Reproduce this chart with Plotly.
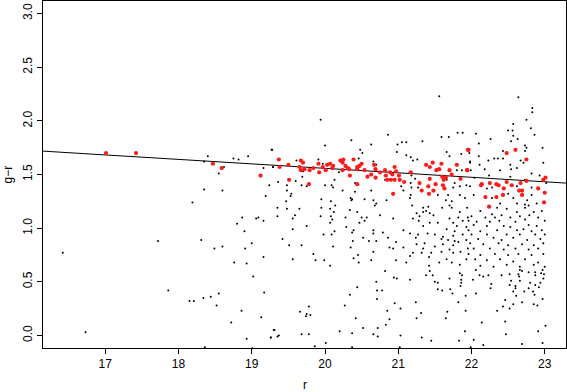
import plotly.graph_objects as go

# field stars (small black dots)
black_r = [
    19.94, 20.00, 20.36, 19.27, 20.48, 20.51, 19.91, 19.61, 20.46, 19.29, 19.97, 20.13, 19.60, 19.36, 20.19, 19.70, 19.69, 20.41,
    21.56, 20.86, 20.63, 20.99, 21.05, 21.11, 21.33, 21.59, 21.69, 21.81, 21.88, 20.98, 21.11, 21.17, 21.20, 21.26, 21.66, 21.86,
    21.70, 20.66, 20.70, 21.80, 21.87, 21.95, 21.18, 21.23, 20.88, 20.82, 21.66, 21.17, 21.77, 21.98,
    22.64, 22.83, 22.83, 22.75, 22.57, 22.50, 22.56, 22.81, 22.06, 22.57, 22.86, 22.26, 22.63, 22.54, 22.10, 22.73, 22.75, 22.43,
    22.73, 22.97, 21.97, 22.10, 22.31, 22.36, 22.43, 22.23, 22.67, 22.71, 21.98, 22.11, 22.53, 22.98, 21.99, 22.18, 22.39, 22.54,
    22.62, 22.82, 22.93, 22.24, 22.53, 22.73, 22.04, 23.02,
    19.48, 19.68, 19.75, 20.00, 20.09, 20.11, 20.24, 20.41, 19.48, 19.54, 19.53, 20.35, 20.37, 20.54, 19.95, 19.47, 20.08, 20.36,
    20.14, 19.35, 19.48, 19.65, 19.95, 20.07, 20.34, 20.44, 20.12, 19.94, 20.08, 19.35, 19.59, 19.56, 20.28, 20.50, 20.57, 20.10,
    20.54, 20.07, 20.47, 19.75, 20.29, 19.56, 20.39, 20.13, 20.37, 19.98, 20.09, 20.52, 19.42, 20.38, 19.51, 19.68, 20.11, 20.35,
    20.60, 19.84, 20.45, 20.39, 19.56, 19.87, 19.99, 20.46, 20.07,
    20.63, 21.04, 21.18, 21.07, 21.27, 21.75, 21.84, 21.93, 21.17, 21.16, 20.66, 20.84, 21.54, 21.68, 21.84, 21.65, 21.73, 21.91,
    20.70, 20.68, 21.70, 21.19, 21.34, 21.41, 21.38, 21.60, 21.73, 21.34, 21.25, 21.43, 21.84, 20.75, 21.29, 21.48, 21.82, 21.95,
    20.93, 21.20, 21.70, 21.28, 21.43, 21.88, 21.54, 21.75, 21.34, 21.80, 21.93, 21.07, 21.66, 21.77, 20.66, 20.79, 20.66, 21.16,
    21.27, 21.40, 21.50, 21.61, 21.75, 21.88, 20.86, 21.24, 21.59, 21.68, 21.77, 21.82, 21.93, 20.70, 20.97, 21.25, 21.36, 21.61,
    21.75, 20.88, 20.93, 21.07, 21.34, 21.50, 21.70, 21.85, 21.95, 20.66, 21.20, 21.32, 21.45, 21.59, 21.75, 21.16, 21.42, 21.66,
    20.63, 20.97, 21.11, 21.56, 21.73, 21.84, 21.42, 21.93,
    21.98, 22.21, 22.28, 22.62, 22.82, 22.03, 22.50, 22.28, 22.57, 22.82, 22.76, 22.62, 22.39, 22.73, 22.78, 22.89, 21.94, 22.35,
    22.48, 22.73, 22.12, 22.62, 22.85, 22.96, 22.28, 22.41, 22.79, 22.00, 22.19, 22.32, 22.53, 22.66, 22.91, 21.96, 22.07, 22.25,
    22.38, 22.60, 22.73, 23.00, 22.03, 22.21, 22.44, 22.53, 22.78, 22.89, 21.96, 22.12, 22.35, 22.62, 22.71, 22.82, 22.96, 22.00,
    22.21, 22.48, 22.66, 22.87, 23.00, 22.09, 22.30, 22.41, 22.57, 22.76, 22.94, 21.98, 22.16, 22.37, 22.50, 22.69, 22.85, 22.98,
    22.03, 22.25, 22.44, 22.60, 22.78, 22.91, 21.96, 22.12, 22.32, 22.50, 22.64, 22.82, 22.98, 22.05, 22.21, 22.39, 22.57, 22.73,
    22.91, 22.12, 22.30, 22.48, 22.66, 22.85, 23.00,
    20.44, 20.34, 20.27, 19.78, 19.66, 19.75, 19.80, 19.74, 20.42, 20.52, 19.31, 20.20, 20.37, 19.37, 19.35, 19.26, 19.68, 19.78,
    20.01, 19.86, 20.37,
    20.82, 20.98, 20.94, 21.16, 20.70, 21.43, 21.38, 21.47, 21.70, 21.84, 21.87, 21.86, 21.86, 21.50, 21.54, 21.85, 20.71, 20.78,
    21.54, 21.60, 21.71, 21.74, 21.92, 20.71, 21.24, 20.95, 21.82, 21.03, 20.85, 21.67, 21.92, 21.31, 21.25, 21.65, 20.88, 20.83,
    20.72, 21.91, 20.66, 20.72, 21.03, 21.32, 21.45, 21.83, 21.02,
    22.06, 22.66, 22.69, 22.97, 22.95, 22.99, 22.11, 22.16, 22.23, 22.41, 22.52, 22.64, 22.65, 22.78, 22.87, 22.87, 22.98, 22.02,
    22.54, 22.66, 22.80, 22.94, 22.27, 22.52, 22.60, 22.87, 22.26, 22.60, 22.78, 22.92, 22.57, 22.72, 22.84, 22.06, 22.61, 22.86,
    22.97, 22.46, 22.69, 22.57, 22.85, 22.90, 22.43, 22.52, 22.35, 22.14, 22.46, 23.01, 22.91, 22.47, 22.03, 22.69, 22.97, 22.16,
    21.99,
    16.42, 16.73, 17.72,
    18.40, 18.35, 18.62, 18.55, 18.75, 18.82, 18.95, 19.16, 19.28, 19.29, 19.24, 19.19, 18.35, 18.60, 18.19, 18.87, 18.80, 19.09,
    19.06, 19.16, 18.90, 18.31, 18.49, 18.60, 19.00, 18.91, 19.16, 18.76, 18.93, 19.02, 17.86, 18.55, 19.17, 18.15, 18.21, 18.34,
    18.44, 18.52, 18.86, 19.13, 18.72, 19.30, 18.93, 19.26, 18.36, 19.01,
]
black_gr = [
    2.01, 1.77, 1.82, 1.73, 1.73, 1.70, 1.64, 1.63, 1.65, 1.57, 1.60, 1.45, 1.44, 1.43, 1.52, 1.53, 1.48, 1.42,
    2.23, 1.87, 1.78, 1.78, 1.80, 1.80, 1.81, 1.85, 1.85, 1.89, 1.89, 1.71, 1.68, 1.66, 1.63, 1.64, 1.71, 1.69,
    1.67, 1.62, 1.59, 1.54, 1.54, 1.53, 1.49, 1.46, 1.45, 1.45, 1.45, 1.42, 1.42, 1.61,
    2.22, 2.12, 2.08, 2.01, 1.97, 1.91, 1.91, 1.93, 1.88, 1.86, 1.87, 1.83, 1.83, 1.81, 1.79, 1.77, 1.75, 1.72,
    1.72, 1.75, 1.70, 1.67, 1.65, 1.65, 1.65, 1.63, 1.63, 1.61, 1.62, 1.59, 1.59, 1.61, 1.54, 1.55, 1.54, 1.55,
    1.56, 1.51, 1.49, 1.49, 1.48, 1.45, 1.47, 1.42,
    1.40, 1.40, 1.39, 1.40, 1.40, 1.38, 1.35, 1.34, 1.35, 1.32, 1.30, 1.28, 1.27, 1.27, 1.27, 1.25, 1.25, 1.26,
    1.21, 1.19, 1.18, 1.18, 1.19, 1.18, 1.17, 1.15, 1.15, 1.11, 1.11, 1.11, 1.12, 1.09, 1.10, 1.10, 1.10, 1.08,
    1.07, 1.05, 1.05, 1.02, 1.01, 0.99, 0.98, 0.97, 0.96, 0.94, 0.94, 0.91, 0.90, 0.88, 0.84, 0.84, 0.83, 0.82,
    0.88, 0.76, 0.75, 0.72, 0.71, 0.70, 0.70, 0.68, 0.65,
    1.35, 1.39, 1.38, 1.35, 1.38, 1.38, 1.39, 1.40, 1.31, 1.28, 1.26, 1.26, 1.31, 1.31, 1.31, 1.26, 1.25, 1.28,
    1.23, 1.21, 1.21, 1.21, 1.19, 1.20, 1.16, 1.19, 1.19, 1.15, 1.14, 1.14, 1.15, 1.12, 1.11, 1.12, 1.10, 1.10,
    1.09, 1.09, 1.09, 1.07, 1.05, 1.07, 1.05, 1.05, 1.02, 1.02, 1.01, 0.98, 0.99, 0.97, 0.98, 0.96, 0.95, 0.95,
    0.94, 0.95, 0.94, 0.92, 0.93, 0.94, 0.91, 0.91, 0.90, 0.89, 0.88, 0.87, 0.89, 0.88, 0.87, 0.85, 0.86, 0.85,
    0.84, 0.82, 0.81, 0.82, 0.81, 0.83, 0.80, 0.78, 0.81, 0.78, 0.77, 0.77, 0.77, 0.78, 0.77, 0.74, 0.73, 0.71,
    0.70, 0.70, 0.68, 0.68, 0.68, 0.66, 0.65, 0.71,
    1.39, 1.37, 1.38, 1.39, 1.38, 1.31, 1.32, 1.28, 1.28, 1.31, 1.26, 1.23, 1.23, 1.22, 1.21, 1.23, 1.19, 1.19,
    1.18, 1.19, 1.16, 1.15, 1.15, 1.16, 1.13, 1.12, 1.12, 1.11, 1.10, 1.10, 1.10, 1.11, 1.10, 1.07, 1.06, 1.06,
    1.07, 1.06, 1.08, 1.07, 1.03, 1.02, 1.02, 1.01, 1.03, 1.02, 0.98, 0.97, 0.98, 0.98, 0.99, 0.97, 0.98, 0.94,
    0.94, 0.94, 0.94, 0.94, 0.94, 0.90, 0.91, 0.89, 0.91, 0.89, 0.90, 0.86, 0.85, 0.86, 0.84, 0.85, 0.84, 0.86,
    0.81, 0.81, 0.80, 0.81, 0.80, 0.81, 0.76, 0.75, 0.76, 0.75, 0.76, 0.75, 0.76, 0.71, 0.70, 0.71, 0.69, 0.71,
    0.68, 0.65, 0.64, 0.66, 0.64, 0.66, 0.64,
    0.45, 0.38, 0.28, 0.27, 0.22, 0.20, 0.19, 0.18, 0.16, 0.07, 0.05, 0.04, 0.02, 0.00, -0.01, -0.02, 0.01, 0.01,
    -0.07, -0.10, -0.11,
    0.60, 0.53, 0.54, 0.52, 0.50, 0.60, 0.56, 0.56, 0.53, 0.58, 0.56, 0.52, 0.49, 0.50, 0.49, 0.46, 0.42, 0.42,
    0.43, 0.42, 0.43, 0.39, 0.37, 0.34, 0.31, 0.30, 0.31, 0.25, 0.23, 0.22, 0.23, 0.21, 0.16, 0.16, 0.15, 0.10,
    0.07, 0.04, 0.01, -0.01, 0.00, -0.02, -0.05, -0.05, -0.11,
    0.61, 0.61, 0.60, 0.61, 0.58, 0.57, 0.56, 0.55, 0.56, 0.56, 0.57, 0.57, 0.55, 0.59, 0.59, 0.56, 0.53, 0.52,
    0.51, 0.51, 0.49, 0.49, 0.48, 0.47, 0.46, 0.47, 0.44, 0.44, 0.44, 0.45, 0.41, 0.41, 0.41, 0.39, 0.37, 0.38,
    0.34, 0.33, 0.31, 0.29, 0.29, 0.28, 0.27, 0.25, 0.23, 0.12, 0.13, 0.09, 0.04, 0.01, -0.04, -0.08, -0.07, -0.09,
    -0.11,
    0.77, 0.03, 0.88,
    1.67, 1.62, 1.57, 1.51, 1.65, 1.64, 1.67, 1.56, 1.73, 1.57, 1.40, 1.30, 1.36, 1.35, 1.24, 1.10, 1.04, 1.10,
    1.09, 1.07, 0.97, 0.89, 0.81, 0.83, 0.86, 0.81, 0.73, 0.68, 0.67, 0.55, 0.42, 0.39, 0.40, 0.32, 0.32, 0.35,
    0.36, 0.28, 0.23, 0.17, 0.12, 0.05, -0.03, -0.02, -0.11, -0.12,
]

# selected members (red dots)
red_r = [
    17.01, 17.42, 18.47, 18.59, 19.12,
    19.37, 19.50, 19.38, 19.67, 19.70, 19.65, 19.67, 19.72, 19.79, 19.84, 19.91, 19.92, 20.01, 19.97, 20.03, 20.07,
    20.11, 20.10, 20.21, 20.25, 20.24, 20.28, 20.31, 20.33, 20.24, 20.39, 20.44, 20.47, 20.50, 20.44, 20.54, 20.58,
    20.34, 19.51, 19.78, 20.44,
    21.95, 21.38, 21.47, 21.43, 21.59, 21.80, 21.56, 21.52, 21.70, 21.94, 20.67, 20.69, 20.63, 20.69, 20.75, 20.82,
    20.83, 20.89, 20.95, 20.97, 20.92, 20.90, 20.85, 21.01, 21.02, 20.95, 21.08, 21.17, 21.29, 21.43, 21.60, 21.62,
    21.65, 21.73, 21.85, 21.51,
    21.96, 22.48, 22.60, 22.75, 21.94, 23.01, 22.98, 22.25, 22.34, 22.48, 22.67, 22.75, 22.14,
    20.93, 21.32, 21.41, 21.42, 21.48, 21.61, 21.63,
    22.13, 22.37, 22.55, 22.44, 22.19, 22.34, 22.43, 22.65, 22.69, 22.69, 22.91, 23.00, 22.99, 22.24,
]
red_gr = [
    1.70, 1.70, 1.60, 1.56, 1.49,
    1.64, 1.59, 1.57, 1.63, 1.61, 1.57, 1.54, 1.55, 1.54, 1.56, 1.60, 1.52, 1.54, 1.57, 1.59, 1.60,
    1.58, 1.56, 1.63, 1.64, 1.61, 1.58, 1.56, 1.55, 1.54, 1.64, 1.57, 1.58, 1.60, 1.55, 1.54, 1.48,
    1.49, 1.45, 1.41, 1.41,
    1.73, 1.59, 1.61, 1.57, 1.60, 1.59, 1.55, 1.54, 1.54, 1.54, 1.59, 1.55, 1.50, 1.47, 1.52, 1.54,
    1.49, 1.52, 1.57, 1.53, 1.50, 1.45, 1.45, 1.49, 1.45, 1.45, 1.43, 1.52, 1.42, 1.46, 1.48, 1.45,
    1.47, 1.50, 1.46, 1.41,
    1.73, 1.70, 1.73, 1.64, 1.54, 1.47, 1.45, 1.42, 1.41, 1.43, 1.42, 1.44, 1.41,
    1.32, 1.35, 1.39, 1.32, 1.35, 1.40, 1.37,
    1.40, 1.40, 1.40, 1.37, 1.29, 1.29, 1.31, 1.35, 1.35, 1.31, 1.37, 1.33, 1.24, 1.20,
]

# fitted relation, drawn edge to edge like abline()
fit_r = [16.15, 23.29]
fit_gr = [1.718, 1.420]

x_ticks = [17, 18, 19, 20, 21, 22, 23]
y_ticks = [0.0, 0.5, 1.0, 1.5, 2.0, 2.5, 3.0]

fig = go.Figure()
fig.add_trace(go.Scatter(x=black_r, y=black_gr, mode='markers',
                         marker=dict(color='black', size=2), hoverinfo='skip'))
fig.add_trace(go.Scatter(x=fit_r, y=fit_gr, mode='lines',
                         line=dict(color='black', width=1), hoverinfo='skip'))
fig.add_trace(go.Scatter(x=red_r, y=red_gr, mode='markers',
                         marker=dict(color='#ff1a1a', size=4.2), hoverinfo='skip'))

axis_style = dict(showgrid=False, zeroline=False, showline=True, linecolor='black', linewidth=1,
                  mirror=True, ticks='outside', ticklen=5, tickcolor='black',
                  tickfont=dict(size=12, color='black'))
fig.update_xaxes(range=[16.15, 23.29], tickvals=x_ticks, ticktext=[str(v) for v in x_ticks],
                 **axis_style)
fig.update_yaxes(range=[-0.117, 3.117], tickvals=y_ticks, ticktext=[f'{v:.1f}' for v in y_ticks],
                 tickangle=-90, **axis_style)

# axis titles placed like R's mtext lines
fig.add_annotation(text='r', xref='paper', yref='paper', x=0.5, y=-0.107,
                   showarrow=False, font=dict(size=12, color='black'), yanchor='middle')
fig.add_annotation(text='g−r', xref='paper', yref='paper', x=-0.067, y=0.5, textangle=-90,
                   showarrow=False, font=dict(size=12, color='black'), xanchor='center')

fig.update_layout(width=567, height=392, showlegend=False,
                  margin=dict(l=43, r=1, t=1, b=44),
                  plot_bgcolor='white', paper_bgcolor='white',
                  font=dict(family='Liberation Sans, Arial, sans-serif', color='black'))
# the page body has a default 8px margin; drop it so the figure sits at the window's corner
fig.write_html("out.html", config={'displayModeBar': False},
               post_script="document.body.style.margin='0';")
